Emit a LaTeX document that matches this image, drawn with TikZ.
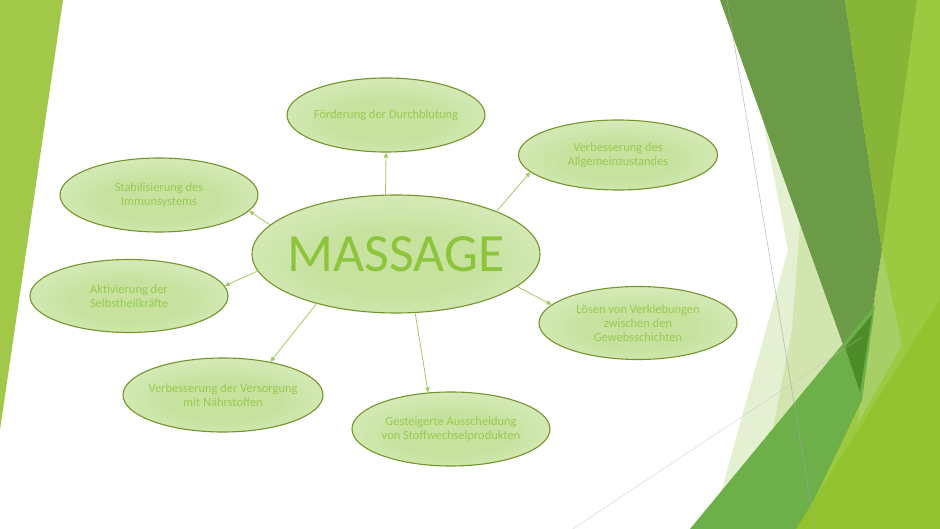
\documentclass[tikz,border=0pt]{standalone}
\usepackage{fontspec}
\setmainfont{Carlito}
\usetikzlibrary{arrows.meta, shapes.geometric}
\definecolor{hubGreen}{HTML}{8CC43A}
\definecolor{labelGreen}{HTML}{99CA50}
\definecolor{rimOlive}{HTML}{74952A}
\definecolor{linkGreen}{HTML}{A4CA66}
\definecolor{ovalIn}{HTML}{C6E29E}
\definecolor{ovalOut}{HTML}{EDF6E2}
\definecolor{leftLeaf}{HTML}{A2C84A}
\definecolor{paleWedge}{HTML}{E5F0D3}
\definecolor{midPale}{HTML}{D2E5AE}
\definecolor{darkLeaf}{HTML}{6B9B47}
\definecolor{bandLeaf}{HTML}{87B536}
\definecolor{brightLeaf}{HTML}{9BC940}
\definecolor{lightWedge}{HTML}{A8CE66}
\definecolor{midLeaf}{HTML}{6DB049}
\definecolor{deepLeaf}{HTML}{4E8C2A}
\definecolor{limeLeaf}{HTML}{93C22F}
\pgfdeclareradialshading{ovalglow}{\pgfpoint{0bp}{-4bp}}{color(0bp)=(ovalIn); color(14bp)=(ovalIn); color(50bp)=(ovalOut); color(100bp)=(ovalOut)}

\begin{document}
\begin{tikzpicture}[x=1bp, y=-1bp,
  bubble/.style={ellipse, draw=rimOlive, line width=1.1bp, shade, shading=ovalglow,
                 minimum width=198bp, minimum height=74bp, inner xsep=-8bp, inner ysep=0pt,
                 align=center, text=labelGreen, font=\fontsize{12.5}{14}\selectfont},
  hub/.style={bubble, minimum width=288bp, minimum height=118bp,
              text=hubGreen, font=\fontsize{54}{60}\selectfont},
  link/.style={draw=linkGreen, line width=0.8bp, -{Triangle[length=5bp,width=4.5bp]}},
]
  \useasboundingbox (0,0) rectangle (940,529);
  \fill[white] (0,0) rectangle (940,529);
  % --- Hintergrund: Facetten links und rechts ---
  \fill[leftLeaf] (0,0) -- (63,0) -- (0,430) -- cycle;
  \fill[paleWedge] (763,120) -- (870,420) -- (800,529) -- (711,529) -- (788,250) -- cycle;
  \fill[midPale] (800,225) -- (855,365) -- (765,470) -- (792,330) -- cycle;
  \fill[brightLeaf] (845,0) -- (940,0) -- (940,529) -- (796,529) -- (860,392) -- (882,250) -- cycle;
  \fill[darkLeaf] (720,0) -- (845,0) -- (882,250) -- (860,392) -- cycle;
  \fill[bandLeaf] (845,0) -- (917,0) -- (882,250) -- cycle;
  \fill[lightWedge] (882,250) -- (902,345) -- (857,425) -- (862,392) -- cycle;
  \fill[midLeaf] (690,529) -- (875,305) -- (862,400) -- (800,529) -- cycle;
  \fill[deepLeaf] (845,347) -- (872,315) -- (860,392) -- cycle;
  \fill[limeLeaf] (796,529) -- (940,300) -- (940,529) -- cycle;
  \draw[black!35, line width=0.6bp, opacity=0.7] (727,0) -- (815,529);
  \draw[black!25, line width=0.6bp, opacity=0.5] (573,529) -- (862,337);
  % --- Mitte und Wirkungen ---
  \node[hub] (massage) at (396,254) {\makebox[0pt]{MASSAGE}};
  \node[bubble] (flow) at (386,115) {Förderung der Durchblutung};
  \node[bubble, minimum width=199bp, minimum height=70bp] (general) at (618,155) {Verbesserung des\\Allgemeinzustandes};
  \node[bubble] (immune) at (159,195) {Stabilisierung des\\Immunsystems};
  \node[bubble, minimum height=73bp] (selfheal) at (129,296) {Aktivierung der\\Selbstheilkräfte};
  \node[bubble, minimum height=73bp] (tissue) at (638,323) {Lösen von Verklebungen\\zwischen den\\Gewebsschichten};
  \node[bubble, minimum width=200bp] (supply) at (223,395) {Verbesserung der Versorgung\\mit Nährstoffen};
  \node[bubble] (waste) at (451,429) {Gesteigerte Ausscheidung\\von Stoffwechselprodukten};
  % --- Pfeile ---
  \draw[link] (massage.100) -- (flow.270);
  \draw[link] (massage.23) -- (general.191);
  \draw[link] (massage.167) -- (immune.350);
  \draw[link] (massage.187) -- (selfheal.6);
  \draw[link] (massage.345) -- (tissue.168);
  \draw[link] (massage.212) -- (supply.35);
  \draw[link] (massage.288) -- (waste.122);
\end{tikzpicture}
\end{document}
